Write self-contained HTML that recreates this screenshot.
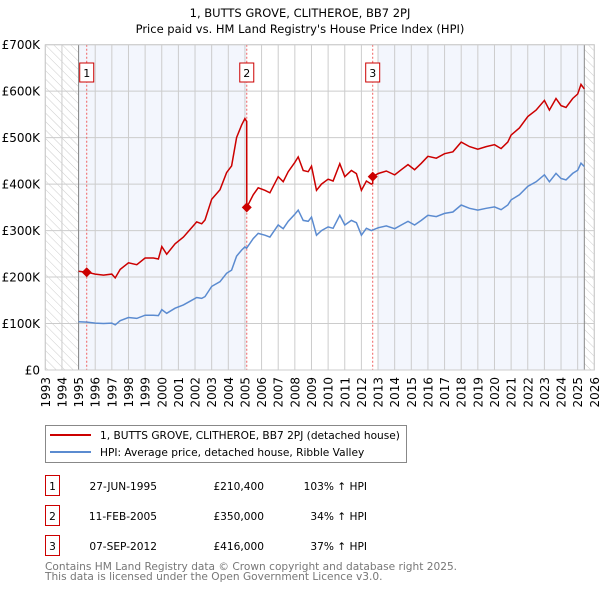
<!DOCTYPE html>
<html><head><meta charset="utf-8"><style>
body{margin:0;background:#fff;width:600px;height:590px;overflow:hidden;font-family:"DejaVu Sans","Liberation Sans",sans-serif}
svg text{font-family:"DejaVu Sans","Liberation Sans",sans-serif}
</style></head><body>
<svg id="chart" width="600" height="590" viewBox="0 0 600 590" xmlns="http://www.w3.org/2000/svg">
<defs><pattern id="hatch" width="6" height="6" patternUnits="userSpaceOnUse" patternTransform="rotate(-45)"><line x1="0" y1="0" x2="0" y2="6" stroke="#ccc" stroke-width="1"/></pattern></defs>
<text x="300" y="17" text-anchor="middle" font-size="11.5">1, BUTTS GROVE, CLITHEROE, BB7 2PJ</text>
<text x="300" y="33" text-anchor="middle" font-size="11.5">Price paid vs. HM Land Registry's House Price Index (HPI)</text>
<g id="plot"></g>
<g>
<rect x="45.5" y="425.5" width="361" height="37" fill="#fff" stroke="#888"/>
<line x1="50" y1="435" x2="91" y2="435" stroke="#cc0000" stroke-width="2"/>
<text x="100" y="439" font-size="10.6">1, BUTTS GROVE, CLITHEROE, BB7 2PJ (detached house)</text>
<line x1="50" y1="452" x2="91" y2="452" stroke="#5b8bd0" stroke-width="2"/>
<text x="100" y="456" font-size="10.6">HPI: Average price, detached house, Ribble Valley</text>
</g>
<g font-size="10.6">
<rect x="45.5" y="475.5" width="14" height="20" fill="none" stroke="#cc0000"/><text x="52.5" y="490" text-anchor="middle">1</text>
<text x="157" y="490" text-anchor="end">27-JUN-1995</text><text x="264" y="490" text-anchor="end">£210,400</text><text x="367" y="490" text-anchor="end">103% ↑ HPI</text>
<rect x="45.5" y="505.5" width="14" height="20" fill="none" stroke="#cc0000"/><text x="52.5" y="520" text-anchor="middle">2</text>
<text x="157" y="520" text-anchor="end">11-FEB-2005</text><text x="264" y="520" text-anchor="end">£350,000</text><text x="367" y="520" text-anchor="end">34% ↑ HPI</text>
<rect x="45.5" y="535.5" width="14" height="20" fill="none" stroke="#cc0000"/><text x="52.5" y="550" text-anchor="middle">3</text>
<text x="157" y="550" text-anchor="end">07-SEP-2012</text><text x="264" y="550" text-anchor="end">£416,000</text><text x="367" y="550" text-anchor="end">37% ↑ HPI</text>
</g>
<text x="45" y="570" font-size="10.6" fill="#777">Contains HM Land Registry data © Crown copyright and database right 2025.</text>
<text x="45" y="580" font-size="10.6" fill="#777">This data is licensed under the Open Government Licence v3.0.</text>
</svg>
<script>
const yearTicks=[1993,1994,1995,1996,1997,1998,1999,2000,2001,2002,2003,2004,2005,2006,2007,2008,2009,2010,2011,2012,2013,2014,2015,2016,2017,2018,2019,2020,2021,2022,2023,2024,2025,2026];
const priceTicks=[0,100,200,300,400,500,600,700];
const priceTickLabels=["£0","£100K","£200K","£300K","£400K","£500K","£600K","£700K"];
const hpiDates=[1995.0,1995.5,1996.0,1996.5,1997.0,1997.2,1997.5,1998.0,1998.5,1999.0,1999.5,1999.8,2000.0,2000.3,2000.8,2001.3,2001.8,2002.1,2002.4,2002.6,2003.0,2003.5,2003.9,2004.2,2004.5,2004.8,2005.0,2005.1,2005.5,2005.8,2006.2,2006.5,2007.0,2007.3,2007.6,2008.0,2008.2,2008.5,2008.8,2009.0,2009.3,2009.6,2010.0,2010.3,2010.7,2011.0,2011.4,2011.7,2012.0,2012.3,2012.6,2013.0,2013.5,2014.0,2014.4,2014.8,2015.2,2015.6,2016.0,2016.5,2017.0,2017.5,2018.0,2018.5,2019.0,2019.5,2020.0,2020.4,2020.8,2021.0,2021.5,2022.0,2022.5,2023.0,2023.3,2023.7,2024.0,2024.3,2024.7,2025.0,2025.2,2025.4];
const hpiValues=[104,103,101,100,101,97,106,113,111,118,118,117,130,122,133,140,150,156,154,158,180,190,208,215,245,258,265,262,283,294,290,286,312,304,320,335,344,322,320,329,290,300,308,305,333,312,322,317,290,305,300,306,310,304,312,320,312,322,333,330,337,340,355,348,344,348,351,345,355,366,377,395,405,420,405,423,412,409,423,430,445,438];
const saleDates=[1995.49,2005.11,2012.68];
const salePrices=[210.4,350,416];
const saleLabels=["1","2","3"];

const NS="http://www.w3.org/2000/svg";
const X0=45.3,X1=594.3,Y0=370,Y1=44.7;
const sx=y=>X0+(y-1993)*(X1-X0)/33;
const sy=v=>Y0-v*(Y0-Y1)/700;
const plot=document.getElementById('plot');
function mk(tag,attrs,parent){const e=document.createElementNS(NS,tag);for(const k in attrs)e.setAttribute(k,attrs[k]);(parent||plot).appendChild(e);return e;}
function hpiAt(t){for(let i=0;i<hpiDates.length-1;i++){if(t<=hpiDates[i+1]){const f=(t-hpiDates[i])/(hpiDates[i+1]-hpiDates[i]);return hpiValues[i]+f*(hpiValues[i+1]-hpiValues[i]);}}return hpiValues[hpiValues.length-1];}

let bg=mk('rect',{x:X0,y:Y1,width:X1-X0,height:Y0-Y1,fill:'#fff'});


const lastD=hpiDates[hpiDates.length-1];
let h1=mk('rect',{x:X0,y:Y1,width:sx(1995)-X0,height:Y0-Y1,fill:'url(#hatch)'});


let h2=mk('rect',{x:sx(lastD),y:Y1,width:X1-sx(lastD),height:Y0-Y1,fill:'url(#hatch)'});


let s1=mk('rect',{x:sx(1995),y:Y1,width:sx(saleDates[1])-sx(1995),height:Y0-Y1,fill:'#f3f6fd'});


let s2=mk('rect',{x:sx(Math.ceil(saleDates[2])),y:Y1,width:sx(lastD)-sx(Math.ceil(saleDates[2])),height:Y0-Y1,fill:'#f3f6fd'});



yearTicks.forEach(t=>{
  let g=mk('line',{x1:sx(t),x2:sx(t),y1:Y1,y2:Y0,stroke:'#ccc','stroke-width':1});
  
  
  let tx=mk('text',{x:0,y:0,'font-size':12,'text-anchor':'end',transform:`translate(${sx(t)+4.5},${Y0+7}) rotate(-90)`});
  tx.textContent=t;
  
  
});
priceTicks.forEach((v,i)=>{
  let g=mk('line',{x1:X0,x2:X1,y1:sy(v),y2:sy(v),stroke:'#ccc','stroke-width':1});
  
  
  let tx=mk('text',{x:40,y:sy(v)+4.5,'font-size':12,'text-anchor':'end'});
  tx.textContent=priceTickLabels[i];
  
  
});
[1995,lastD].forEach(t=>{let l=mk('line',{x1:sx(t),x2:sx(t),y1:Y1,y2:Y0,stroke:'#888','stroke-width':1});

});

saleDates.forEach((d,i)=>{
  let l=mk('line',{x1:sx(d),x2:sx(d),y1:Y1,y2:Y0,stroke:'#f06060','stroke-width':1,'stroke-dasharray':'2,2'});
  
  
  let r=mk('rect',{x:sx(d)-7,y:63,width:14,height:19,fill:'#fff',stroke:'#cc0000'});
  
  
  let tx=mk('text',{x:sx(d),y:77,'font-size':11,'text-anchor':'middle'});
  tx.textContent=saleLabels[i];
  
  
});

let hp=hpiDates.map((d,i)=>(i?'L':'M')+sx(d).toFixed(1)+','+sy(hpiValues[i]).toFixed(1)).join('');
let hl=mk('path',{d:hp,fill:'none',stroke:'#5b8bd0','stroke-width':1.5});



let pts=[];
const factor=i=>salePrices[i]/hpiAt(saleDates[i]);
const segIdx=t=>{let k=0;for(let i=0;i<saleDates.length;i++)if(t>=saleDates[i])k=i;return k;};
let times=[];
hpiDates.forEach(d=>times.push(d));
saleDates.forEach(d=>{times.push(d-0.001);times.push(d);});
times.sort((a,b)=>a-b);
times.forEach(t=>{pts.push([t,hpiAt(t)*factor(segIdx(t))]);});
let rp=pts.map((p,i)=>(i?'L':'M')+sx(p[0]).toFixed(1)+','+sy(p[1]).toFixed(1)).join('');
let rl=mk('path',{d:rp,fill:'none',stroke:'#cc0000','stroke-width':1.5});


saleDates.forEach((d,i)=>{
  let x=sx(d),y=sy(salePrices[i]);
  let m=mk('path',{d:`M${x-5},${y}L${x},${y-5}L${x+5},${y}L${x},${y+5}Z`,fill:'#cc0000'});
  
  
});
let fr=mk('rect',{x:X0,y:Y1,width:X1-X0,height:Y0-Y1,fill:'none',stroke:'#ccc'});


</script>
</body></html>
